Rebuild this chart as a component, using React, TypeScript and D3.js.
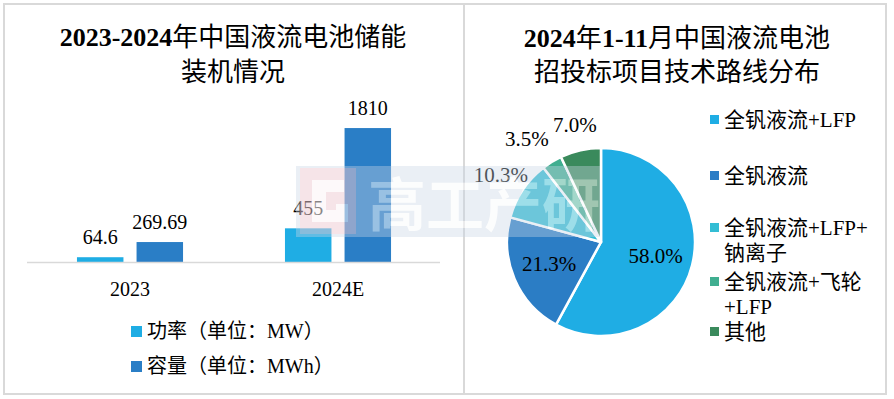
import * as d3 from "d3";

// left chart data
const years = ["2023", "2024E"];
const seriesNames = ["功率（单位：MW）", "容量（单位：MWh）"];
const powerValues = [64.6, 455];
const capacityValues = [269.69, 1810];
const barColors = ["#1FADE4", "#2A7EC6"];

// right chart data
const routeNames = ["全钒液流+LFP", "全钒液流", "全钒液流+LFP+钠离子", "全钒液流+飞轮+LFP", "其他"];
const legendLines = [["全钒液流+LFP"], ["全钒液流"], ["全钒液流+LFP+", "钠离子"], ["全钒液流+飞轮", "+LFP"], ["其他"]];
const routeShares = [58.0, 21.3, 10.3, 3.5, 7.0];
const pieColors = ["#1FADE4", "#2B7DC5", "#33BDD4", "#40AE90", "#3A8A5C"];

const FONT = "'Liberation Serif', 'Noto Sans CJK SC', serif";

// bold latin runs, regular CJK runs (like the Songti title)
function Title({ text, x, y }: { text: string; x: number; y: number }) {
  const runs = text.match(/[\x00-\x7F]+|[^\x00-\x7F]+/g) || [];
  return (
    <text x={x} y={y} textAnchor="middle" fontSize={26} fill="#000">
      {runs.map((r, i) => (
        <tspan key={i} fontWeight={/[\x00-\x7F]/.test(r) ? "bold" : "normal"}>{r}</tspan>
      ))}
    </text>
  );
}

function BarPanel() {
  const x0 = d3.scaleBand<string>().domain(years).range([26, 442]);
  const bw = x0.bandwidth();
  const x1 = d3.scaleBand<string>().domain(seriesNames).range([bw * 0.245, bw * 0.755]).paddingInner(0.22);
  const y = d3.scaleLinear().domain([0, 2000]).range([262, 114]);
  const series = [powerValues, capacityValues];
  return (
    <g>
      <rect x={4} y={4} width={460} height={390} fill="#fff" stroke="#d9d9d9" strokeWidth={2} />
      <Title text="2023-2024年中国液流电池储能" x={233} y={46} />
      <Title text="装机情况" x={233} y={81} />
      {years.map((yr, i) => (
        <g key={yr} transform={`translate(${x0(yr)},0)`}>
          {seriesNames.map((s, j) => {
            const v = series[j][i];
            const bx = x1(s)!;
            return (
              <g key={s}>
                <rect x={bx} y={y(v)} width={x1.bandwidth()} height={y(0) - y(v)} fill={barColors[j]} />
                <text x={bx + x1.bandwidth() / 2} y={y(v) - 13} textAnchor="middle" fontSize={20}>{v}</text>
              </g>
            );
          })}
          <text x={bw / 2} y={296} textAnchor="middle" fontSize={20}>{yr}</text>
        </g>
      ))}
      <line x1={27} x2={440} y1={262.5} y2={262.5} stroke="#d9d9d9" strokeWidth={1.5} />
      {seriesNames.map((s, j) => (
        <g key={s} transform={`translate(131,${326 + j * 35})`}>
          <rect width={11} height={11} fill={barColors[j]} />
          <text x={16} y={12} fontSize={20}>{s}</text>
        </g>
      ))}
    </g>
  );
}

function PiePanel() {
  const cx = 601, cy = 242, r = 94;
  const fs = 21;
  const pie = d3.pie<number>().sort(null).value(d => d);
  const arcs = pie(routeShares);
  const arc = d3.arc<d3.PieArcDatum<number>>().innerRadius(0).outerRadius(r);
  const inLabel = d3.arc<d3.PieArcDatum<number>>().innerRadius(r * 0.6).outerRadius(r * 0.6);
  const outLabel = d3.arc<d3.PieArcDatum<number>>().innerRadius(r * 1.28).outerRadius(r * 1.28);
  const labels = arcs.map((a, i) => {
    const [lx, ly] = (i < 2 ? inLabel : outLabel).centroid(a);
    const t = routeShares[i].toFixed(1) + "%";
    return { lx, ly, t, w: t.length * fs * 0.5 };
  });
  // push an outside label left when it collides with the next one
  for (let i = labels.length - 2; i >= 2; i--) {
    const a = labels[i], b = labels[i + 1];
    const overlap = a.lx + a.w / 2 - (b.lx - b.w / 2);
    if (overlap > 0 && Math.abs(a.ly - b.ly) < fs) a.lx -= overlap + 6;
  }
  const legendY = [120, 176, 228, 282, 332];
  return (
    <g>
      <rect x={464} y={4} width={422} height={390} fill="#fff" stroke="#d9d9d9" strokeWidth={2} />
      <Title text="2024年1-11月中国液流电池" x={677} y={47} />
      <Title text="招投标项目技术路线分布" x={677} y={81} />
      <g transform={`translate(${cx},${cy})`}>
        {arcs.map((a, i) => (
          <path key={routeNames[i]} d={arc(a)!} fill={pieColors[i]} stroke="#fff" strokeWidth={2.5} strokeLinejoin="round" />
        ))}
        {labels.map((l, i) => (
          <text key={i} x={l.lx} y={l.ly + 7} textAnchor="middle" fontSize={fs} fill="#000">{l.t}</text>
        ))}
      </g>
      {legendLines.map((lines, i) => (
        <g key={i}>
          <rect x={710} y={legendY[i] - 5} width={9} height={9} fill={pieColors[i]} />
          {lines.map((ln, k) => (
            <text key={k} x={724} y={legendY[i] + 7 + k * 25} fontSize={fs} fill="#000">{ln}</text>
          ))}
        </g>
      ))}
    </g>
  );
}

function Watermark() {
  return (
    <g opacity={0.55} pointerEvents="none">
      <rect x={296} y={166} width={304} height={71} fill="#c9d6e6" opacity={0.7} />
      <rect x={300} y={168} width={56} height={66} fill="#f4c9cf" opacity={0.8} />
      <path d="M312 180 H344 V192 H326 V210 H336 V204 H348 V222 H312 Z" fill="#fff" opacity={0.8} />
      <text x={368} y={226} fontSize={58} fontWeight="bold" fill="#fff" fontFamily="'Noto Sans CJK SC'" opacity={0.9}>高工产研</text>
    </g>
  );
}

export default function App() {
  return (
    <svg width={894} height={399} style={{ position: "absolute", left: 0, top: 0, background: "#fff" }} fontFamily={FONT}>
      <BarPanel />
      <PiePanel />
      <Watermark />
    </svg>
  );
}
